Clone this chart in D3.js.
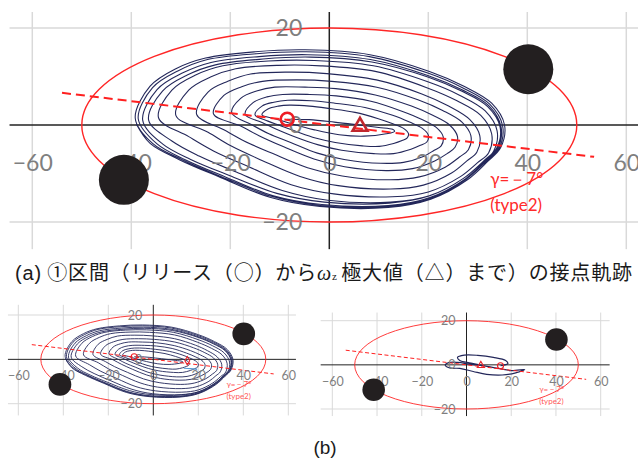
<!DOCTYPE html>
<html>
<head>
<meta charset="utf-8">
<script src="https://cdn.jsdelivr.net/npm/d3@7"></script>
<style>
  html, body { margin: 0; padding: 0; background: #ffffff; }
  svg { display: block; }
</style>
</head>
<body>
<svg id="fig" width="638" height="459"></svg>
<script>
// ---- tick labels ----
const xTicks = [-60, -40, -20, 0, 20, 40, 60];
const yTicks = [20, 0, -20];

// ---- reference ellipse (type2) semi-axes, and the γ line ----
const ellipseAxes = [50, 20];
const gammaDeg = -7;
const gammaSpan = [-54, 53.5];
const gammaLabel = "γ=－7°";
const typeLabel = "(type2)";

// ---- contact pads (black discs) ----
const padCenters = [[-41.5, -11.3], [40.2, 11.5]];

// ---- markers ----
const releaseA = [-8.5, 1.2];   // ○ release
const peakA = [6.2, -0.3];      // △ ωz maximum
const releaseB1 = [-8.5, 1.2];
const peakB1 = [15.1, -0.6];
const peakB2 = [6.4, -0.3];
const releaseB2 = [15.2, -0.4];

// ---- contact-point trajectory, section ① (loop by loop, inner to outer) ----
const loop0 = [[-8.5,1.2],[-4,1.1],[1,0.6],[6,0.0],[10,-0.5],[12.8,-0.9],[13.2,-1.3],[11.5,-1.8],[7,-2.3],[2,-2.0],[-3,-1.0],[-7.5,0.2],[-11,1.3]];
const loop1 = [[-13.6,2.1],[-12.4,3.3],[-10.3,3.9],[-8.0,4.1],[-4.0,3.9],[0.0,3.4],[5.2,2.6],[9.9,1.3],[12.7,0.3],[15.0,-0.7],[16.0,-1.8],[15.7,-2.7],[14.7,-3.2],[13.0,-3.8],[10.1,-4.4],[6.7,-4.3],[1.2,-3.6],[-2.8,-2.7],[-6.8,-1.3],[-10.0,-0.1],[-12.4,0.8]];
const loop2 = [[-15.0,2.1],[-13.6,3.9],[-11.2,4.7],[-8.4,5.1],[-3.6,5.0],[1.1,4.5],[7.2,3.6],[12.8,2.0],[16.2,0.6],[18.8,-0.7],[20.0,-2.1],[19.7,-3.5],[18.4,-4.2],[16.5,-5.0],[13.0,-5.9],[9.0,-5.9],[2.5,-5.2],[-2.2,-4.1],[-7.0,-2.4],[-10.8,-0.8],[-13.6,0.5]];
const loop3 = [[-17.0,2.2],[-15.4,4.6],[-12.6,5.8],[-9.4,6.3],[-4.0,6.3],[1.4,6.0],[8.4,4.9],[14.8,2.8],[18.6,1.2],[21.6,-0.5],[23.0,-2.4],[22.6,-4.3],[21.2,-5.2],[19.0,-6.5],[15.0,-7.7],[10.4,-7.9],[3.0,-7.1],[-2.4,-5.8],[-7.8,-3.6],[-12.2,-1.8],[-15.4,-0.1]];
const loop4 = [[-19.7,2.5],[-17.9,5.5],[-14.7,7.0],[-11.0,7.8],[-4.9,7.8],[1.3,7.5],[9.3,6.2],[16.6,3.9],[20.9,2.0],[24.3,0.0],[25.9,-2.4],[25.4,-4.6],[23.8,-5.9],[21.3,-7.4],[16.8,-9.0],[11.5,-9.4],[3.1,-8.6],[-3.1,-7.0],[-9.2,-4.5],[-14.2,-2.2],[-17.9,-0.2]];
const loop5 = [[-23.4,2.3],[-21.3,6.1],[-17.7,7.9],[-13.5,9.0],[-6.5,9.3],[0.5,9.0],[9.6,7.8],[17.9,5.2],[22.9,3.0],[26.8,0.6],[28.6,-2.2],[28.1,-5.1],[26.3,-6.6],[23.4,-8.7],[18.2,-10.7],[12.2,-11.3],[2.6,-10.5],[-4.4,-8.8],[-11.4,-5.9],[-17.2,-3.3],[-21.3,-1.0]];
const loop6 = [[-26.8,2.2],[-24.5,6.8],[-20.5,9.0],[-15.9,10.5],[-8.2,10.9],[-0.5,10.6],[9.5,9.3],[18.7,6.4],[24.1,3.9],[28.4,1.1],[30.4,-2.2],[29.8,-5.6],[27.8,-7.4],[24.7,-9.9],[19.0,-12.4],[12.4,-13.2],[1.8,-12.5],[-5.9,-10.6],[-13.6,-7.3],[-19.9,-4.3],[-24.5,-1.5]];
const loop7 = [[-31.0,2.0],[-28.4,7.2],[-24.0,9.9],[-18.9,11.6],[-10.3,12.3],[-1.7,12.2],[9.5,11.0],[19.7,7.7],[25.8,5.0],[30.6,2.0],[32.8,-1.8],[32.2,-5.7],[29.9,-7.8],[26.4,-10.7],[20.0,-13.8],[12.7,-14.8],[0.9,-14.2],[-7.7,-12.3],[-16.3,-8.6],[-23.3,-5.4],[-28.4,-2.4]];
const loop8 = [[-34.5,1.5],[-31.8,7.2],[-27.0,10.3],[-21.5,12.2],[-12.3,13.2],[-3.0,13.3],[8.9,12.2],[19.9,8.9],[26.4,6.1],[31.5,2.9],[33.9,-1.2],[33.2,-5.4],[30.8,-7.8],[27.1,-11.0],[20.2,-14.6],[12.4,-15.9],[-0.3,-15.5],[-9.5,-13.5],[-18.8,-9.7],[-26.3,-6.4],[-31.8,-3.3]];
const loop9 = [[-36.5,1.0],[-33.7,7.0],[-28.7,10.3],[-23.0,12.4],[-13.4,13.6],[-3.8,14.0],[8.6,13.0],[19.9,9.9],[26.7,7.0],[32.0,3.8],[34.5,-0.4],[33.8,-4.8],[31.3,-7.3],[27.4,-10.8],[20.3,-14.6],[12.1,-16.1],[-1.0,-15.9],[-10.6,-14.1],[-20.2,-10.4],[-28.0,-7.1],[-33.7,-3.9]];
const loop10 = [[-37.7,1.0],[-34.8,7.3],[-29.7,10.7],[-23.9,12.9],[-14.2,14.1],[-4.4,14.5],[8.3,13.5],[19.9,10.2],[26.7,7.3],[32.2,4.0],[34.7,-0.4],[34.0,-4.9],[31.4,-7.5],[27.5,-11.1],[20.2,-15.0],[11.9,-16.6],[-1.5,-16.4],[-11.3,-14.6],[-21.0,-10.7],[-29.0,-7.2],[-34.8,-3.9]];
const loop11 = [[-38.6,1.3],[-35.7,7.7],[-30.5,11.2],[-24.6,13.5],[-14.7,14.7],[-4.7,15.1],[8.1,14.1],[19.9,10.7],[26.9,7.7],[32.4,4.3],[35.0,-0.1],[34.3,-4.8],[31.7,-7.5],[27.6,-11.2],[20.3,-15.2],[11.8,-16.8],[-1.8,-16.6],[-11.7,-14.7],[-21.7,-10.7],[-29.8,-7.1],[-35.7,-3.8]];
const loop12 = [[-39.2,1.4],[-36.2,8.0],[-31.0,11.6],[-25.0,13.8],[-15.0,15.1],[-4.9,15.5],[8.2,14.5],[20.1,11.1],[27.2,8.0],[32.8,4.5],[35.4,0.0],[34.6,-4.7],[32.0,-7.5],[27.9,-11.3],[20.5,-15.3],[11.9,-17.0],[-1.9,-16.8],[-12.0,-14.9],[-22.0,-10.8],[-30.2,-7.2],[-36.2,-3.8],[-39.0,0.2]];
const trajA = [loop0, loop1, loop2, loop3, loop4, loop5, loop6, loop7, loop8, loop9, loop10, loop11, loop12].flat();

// short highlighted stretch in the lower-left panel
const highlightB1 = [[13.5,-4.0],[16.5,-4.2],[19.5,-4.5]];

// trajectory of the lower-right panel
const trajB2 = [[15.2,-0.4],[18.5,0.6],[17.5,2.0],[12,3.4],[5,4.3],[-1,4.4],[-4,3.4],[-3,2.0],[2,0.8],[8,-0.5],[14,-1.6],[20,-2.6],[26,-2.1],[22,-3.6],[16,-4.6],[9,-4.3],[3,-3.0],[-3,-1.6],[-7.5,-1.4],[-9.5,-0.2],[-8,1.0],[-4,1.1],[2,0.2],[6.4,-0.3]];

// ---- panels ----
const panels = [
  { xr: [32.3, 626.3], yr: [222, 28], ext: { l: -64.6, r: 66, t: 23.3, b: -25.6 },
    traj: trajA, extra: null, lw: 1.1,
    markers: [{ kind: "circle", p: releaseA }, { kind: "triangle", p: peakA }] },
  { xr: [18.3, 288.3], yr: [403.7, 315], ext: { l: -64.6, r: 63.4, t: 24.6, b: -25.3 },
    traj: trajA, extra: highlightB1, lw: 0.9,
    markers: [{ kind: "circle", p: releaseB1 }, { kind: "diamond", p: peakB1 }] },
  { xr: [332.3, 600.7], yr: [409, 320.7], ext: { l: -65.2, r: 64, t: 23.7, b: -23.2 },
    traj: trajB2, extra: null, lw: 1.2,
    markers: [{ kind: "triangle", p: peakB2 }, { kind: "circle", p: releaseB2 }] }
];

const svg = d3.select("#fig");

function drawPanel(cfg) {
  const x = d3.scaleLinear().domain([-60, 60]).range(cfg.xr);
  const y = d3.scaleLinear().domain([-20, 20]).range(cfg.yr);
  const s = (cfg.xr[1] - cfg.xr[0]) / 594;
  const big = s > 0.8;
  const g = svg.append("g");
  const e = cfg.ext;

  // grid
  g.append("g").selectAll("line").data(xTicks.filter(t => t !== 0)).join("line")
    .attr("x1", d => x(d)).attr("x2", d => x(d))
    .attr("y1", y(e.t)).attr("y2", y(e.b))
    .attr("stroke", "#d9d9d9").attr("stroke-width", big ? 1.5 : 1);
  g.append("g").selectAll("line").data(yTicks.filter(t => t !== 0)).join("line")
    .attr("x1", x(e.l)).attr("x2", x(e.r))
    .attr("y1", d => y(d)).attr("y2", d => y(d))
    .attr("stroke", "#d9d9d9").attr("stroke-width", big ? 1.5 : 1);

  // axes through the origin
  g.append("line").attr("x1", x(e.l)).attr("x2", x(e.r)).attr("y1", y(0)).attr("y2", y(0))
    .attr("stroke", "#222").attr("stroke-width", big ? 1.5 : 1);
  g.append("line").attr("x1", x(0)).attr("x2", x(0)).attr("y1", y(e.t)).attr("y2", y(e.b))
    .attr("stroke", "#222").attr("stroke-width", big ? 1.5 : 1);

  // reference ellipse
  g.append("ellipse")
    .attr("cx", x(0)).attr("cy", y(0))
    .attr("rx", x(ellipseAxes[0]) - x(0)).attr("ry", y(0) - y(ellipseAxes[1]))
    .attr("fill", "none").attr("stroke", "#ff2626").attr("stroke-width", big ? 1.4 : 0.9);

  // trajectory
  const line = d3.line().curve(d3.curveCatmullRom.alpha(0.5)).x(d => x(d[0])).y(d => y(d[1]));
  g.append("path").attr("d", line(cfg.traj))
    .attr("fill", "none").attr("stroke", "#23275a")
    .attr("stroke-width", cfg.lw).attr("stroke-linejoin", "round");
  if (cfg.extra) {
    g.append("path").attr("d", line(cfg.extra))
      .attr("fill", "none").attr("stroke", "#5b9bd5").attr("stroke-width", 1.1);
  }

  // γ line
  const tg = Math.tan(gammaDeg * Math.PI / 180);
  g.append("line")
    .attr("x1", x(gammaSpan[0])).attr("y1", y(gammaSpan[0] * tg))
    .attr("x2", x(gammaSpan[1])).attr("y2", y(gammaSpan[1] * tg))
    .attr("stroke", "#ff2020").attr("stroke-width", big ? 2 : 1)
    .attr("stroke-dasharray", big ? "9,5" : "4,2.5");

  // tick labels
  const fs = big ? 23 : 12.5;
  const ax = g.append("g").attr("transform", `translate(0,${y(0)})`)
    .call(d3.axisBottom(x).tickValues(xTicks).tickSize(0).tickPadding(big ? 30 : 12).tickFormat(d3.format("d")));
  const ay = g.append("g").attr("transform", `translate(${x(0)},0)`)
    .call(d3.axisLeft(y).tickValues(yTicks).tickSize(0).tickPadding(big ? 27 : 11).tickFormat(d3.format("d")));
  [ax, ay].forEach(a => {
    a.select(".domain").remove();
    a.attr("font-family", "Lato, 'Open Sans', sans-serif").attr("font-size", fs);
    a.selectAll("text").attr("fill", "#7f7f7f");
  });

  // contact pads
  g.append("g").selectAll("circle").data(padCenters).join("circle")
    .attr("cx", d => x(d[0])).attr("cy", d => y(d[1]))
    .attr("r", x(5.05) - x(0)).attr("fill", "#231f20");

  // markers
  cfg.markers.forEach(m => {
    const cx = x(m.p[0]), cy = y(m.p[1]);
    if (m.kind === "circle") {
      g.append("circle").attr("cx", cx).attr("cy", cy).attr("r", big ? 6.5 : 3)
        .attr("fill", "none").attr("stroke", "#ee1c25").attr("stroke-width", big ? 2.6 : 1.1);
    } else {
      const type = m.kind === "triangle" ? d3.symbolTriangle : d3.symbolDiamond;
      const size = m.kind === "triangle" ? (big ? 95 : 22) : 20;
      g.append("path").attr("d", d3.symbol().type(type).size(size)())
        .attr("transform", `translate(${cx},${cy})`)
        .attr("fill", "none").attr("stroke", big ? "#c1272d" : "#e8262d")
        .attr("stroke-width", big ? 2.6 : 1.1);
    }
  });

  // γ / type labels
  const lfs = big ? 17 : 8;
  g.append("text").attr("x", x(32.5)).attr("y", y(-11.1)).attr("dy", "0.35em")
    .attr("font-family", "Lato, 'Open Sans', sans-serif").attr("font-size", lfs)
    .attr("fill", big ? "#ff2a2a" : "#ff5a5a").text(gammaLabel);
  g.append("text").attr("x", x(32.5)).attr("y", y(-16.5)).attr("dy", "0.35em")
    .attr("font-family", "Lato, 'Open Sans', sans-serif").attr("font-size", lfs)
    .attr("fill", big ? "#ff2a2a" : "#ff5a5a").text(typeLabel);
}

panels.forEach(drawPanel);

// captions
const cap = svg.append("text").attr("x", 15).attr("y", 280)
  .attr("font-size", 20).attr("fill", "#1a1a1a")
  .attr("textLength", 617).attr("lengthAdjust", "spacing")
  .attr("font-family", "'Noto Sans CJK JP', sans-serif");
cap.append("tspan").attr("font-family", "'Liberation Sans', Arial, sans-serif").text("(a)");
cap.append("tspan").text(" ①区間（リリース（○）から");
cap.append("tspan").attr("font-family", "'Liberation Serif', serif").attr("font-style", "italic").text("ω");
cap.append("tspan").attr("font-size", 11).attr("font-family", "'Liberation Serif', serif").text("z ");
cap.append("tspan").text("極大値（△）まで）の接点軌跡");

svg.append("text").attr("x", 325).attr("y", 454).attr("text-anchor", "middle")
  .attr("font-family", "'Liberation Sans', Arial, sans-serif").attr("font-size", 19)
  .attr("fill", "#1a1a1a").text("(b)");
</script>
</body>
</html>
